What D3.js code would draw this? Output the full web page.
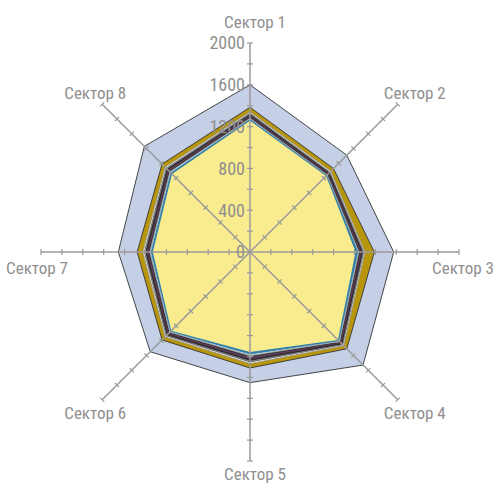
<!DOCTYPE html>
<html>
<head>
<meta charset="utf-8">
<script src="https://cdn.jsdelivr.net/npm/d3@7"></script>
<style>
  body { margin: 0; background: #fff; }
  svg text { font-family: "Liberation Sans Narrow", "Roboto Condensed", "DejaVu Sans Condensed", sans-serif; fill: #8f8f8f; }
</style>
</head>
<body>
<div class="chart"></div>
<script>
const sectors = ['Сектор 1', 'Сектор 2', 'Сектор 3', 'Сектор 4', 'Сектор 5', 'Сектор 6', 'Сектор 7', 'Сектор 8'];
const tickValues = [0, 400, 800, 1200, 1600, 2000];

// series from outermost to innermost
const seriesBlue   = [1600, 1310, 1375, 1530, 1250, 1350, 1260, 1430];
const seriesGold   = [1385, 1130, 1190, 1310, 1110, 1190, 1080, 1190];
const seriesWhite  = [1340, 1092, 1100, 1268, 1068, 1148, 1025, 1148];
const seriesGrey   = [1327, 1080, 1088, 1255, 1052, 1134, 1010, 1134];
const seriesDark   = [1314, 1070, 1076, 1242, 1036, 1120, 996, 1120];
const seriesPurple = [1302, 1060, 1064, 1231, 1021, 1107, 983, 1107];
const seriesSlate  = [1290, 1051, 1052, 1220, 1006, 1095, 970, 1095];
const seriesLight  = [1278, 1043, 1040, 1210, 991, 1084, 957, 1083];
const seriesTeal   = [1268, 1036, 1030, 1200, 976, 1074, 945, 1070];
const seriesYellow = [1255, 1030, 1010, 1190, 958, 1065, 930, 1055];

const series = [
  {values: seriesBlue,   fill: '#c5d0e6', stroke: '#333'},
  {values: seriesGold,   fill: '#b8960c', stroke: '#333'},
  {values: seriesWhite,  fill: '#ffffff', stroke: '#999'},
  {values: seriesGrey,   fill: '#8a8a8a', stroke: '#666'},
  {values: seriesDark,   fill: '#3a3a3a', stroke: '#222'},
  {values: seriesPurple, fill: '#7a4a72', stroke: '#5a3050'},
  {values: seriesSlate,  fill: '#4a4f5a', stroke: '#333'},
  {values: seriesLight,  fill: '#e8f0f4', stroke: '#aaa'},
  {values: seriesTeal,   fill: '#2f7fa8', stroke: '#2f7fa8'},
  {values: seriesYellow, fill: '#f9ec8f', stroke: 'none'}
];

const width = 498, height = 484;
const cx = 250, cy = 252;
const R = 209;

const svg = d3.select('.chart')
  .append('svg')
    .attr('width', width)
    .attr('height', height);

const g = svg.append('g')
  .attr('transform', `translate(${cx},${cy})`);

const r = d3.scaleLinear().domain([0, 2000]).range([0, R]);
const angle = d3.scalePoint().domain(sectors).range([0, 2 * Math.PI * 7 / 8]);

const line = d3.lineRadial()
  .angle((d, i) => angle(sectors[i]))
  .radius(d => r(d))
  .curve(d3.curveLinearClosed);

g.selectAll('.layer')
  .data(series)
  .enter().append('path')
    .attr('class', 'layer')
    .attr('d', d => line(d.values))
    .attr('fill', d => d.fill)
    .attr('stroke', d => d.stroke)
    .attr('stroke-width', 0.9)
    .attr('stroke-linejoin', 'miter');

// axes
const minorTicks = d3.range(0, 2001, 200);
const axes = g.selectAll('.axis')
  .data(sectors)
  .enter().append('g')
    .attr('class', 'axis')
    .attr('transform', d => `rotate(${angle(d) * 180 / Math.PI})`);

axes.append('line')
  .attr('x1', 0).attr('y1', 0)
  .attr('x2', 0).attr('y2', -r(2000))
  .attr('stroke', '#9a9a9a')
  .attr('stroke-width', 1.5);

axes.selectAll('.tick')
  .data(minorTicks.filter(v => v > 0))
  .enter().append('line')
    .attr('class', 'tick')
    .attr('x1', -3).attr('x2', 3)
    .attr('y1', d => -r(d)).attr('y2', d => -r(d))
    .attr('stroke', '#9a9a9a')
    .attr('stroke-width', 1.2);

// radial tick labels on sector 1 axis
g.selectAll('.tlabel')
  .data(tickValues)
  .enter().append('text')
    .attr('class', 'tlabel')
    .attr('x', -5)
    .attr('y', d => -r(d))
    .attr('dy', '0.35em')
    .attr('text-anchor', 'end')
    .attr('font-size', 18)
    .text(d => d);

// sector labels
g.selectAll('.slabel')
  .data(sectors)
  .enter().append('text')
    .attr('class', 'slabel')
    .attr('x', d => {
      const a = angle(d), s = Math.sin(a);
      if (Math.abs(Math.abs(s) - 1) < 1e-6) return s * 213;
      return 226 * s + 5;
    })
    .attr('y', d => {
      const a = angle(d), s = Math.sin(a), c = Math.cos(a);
      if (Math.abs(Math.abs(s) - 1) < 1e-6) return 16;
      if (Math.abs(s) < 1e-6) return -226 * c - 4;
      return -226 * c + 1;
    })
    .attr('dy', '0.35em')
    .attr('text-anchor', 'middle')
    .attr('font-size', 17)
    .text(d => d);
</script>
</body>
</html>
